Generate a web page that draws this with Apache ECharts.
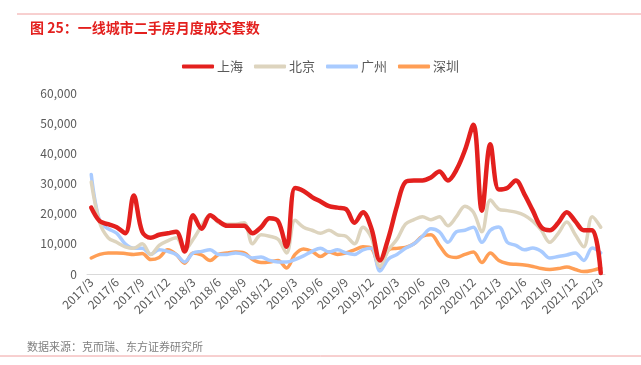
<!DOCTYPE html>
<html>
<head>
<meta charset="utf-8">
<script src="https://cdn.jsdelivr.net/npm/echarts@6/dist/echarts.min.js"></script>
<style>
  html, body { margin: 0; padding: 0; background: #fff; }
  #main { width: 641px; height: 365px; }
</style>
</head>
<body>
<div id="main"></div>
<script>
// months 2017/3 .. 2022/3
const months = [];
for (let y = 2017, m = 3; y < 2022 || (y === 2022 && m <= 3); m++) {
  if (m > 12) { m = 1; y++; }
  months.push(y + '/' + m);
}

const shanghai = [22000, 17500, 16500, 15500, 13500, 26000, 14000, 12000, 13000, 13500,
  14000, 7500, 19500, 15000, 19500, 17500, 16000, 16000, 16000, 13500,
  15500, 18500, 17500, 9000, 28500, 27500, 25500, 24000, 22500, 22000,
  21500, 17000, 20500, 15000, 4500, 12000, 22500, 30500, 31000, 31000,
  32000, 34000, 31000, 34500, 41000, 49500, 21000, 43000, 28000, 28500,
  31000, 26500, 21000, 15500, 14500, 17000, 20500, 17500, 14500, 14500, 300];

const beijing = [30500, 17000, 12000, 10500, 9000, 8500, 10000, 6500, 9500, 11000,
  12000, 8000, 11500, 16000, 19500, 17000, 16500, 16500, 17000, 10000,
  13000, 12500, 11500, 7000, 17800, 15500, 14500, 13500, 14500, 13000,
  12500, 10000, 15500, 12000, 2500, 8000, 11500, 16500, 18000, 19000,
  18000, 19000, 16000, 19000, 22500, 20500, 14000, 24500, 21500, 21000,
  20500, 19500, 17500, 14500, 10500, 13500, 17200, 13000, 9000, 19000, 15500];

const guangzhou = [33000, 17500, 15000, 13500, 10000, 8500, 8500, 6500, 8000, 7500,
  6500, 4000, 7000, 7500, 8000, 6500, 6500, 7000, 6500, 5300,
  5600, 4500, 4000, 4000, 4800, 6000, 7500, 8500, 7300, 8000,
  7000, 6500, 8000, 8500, 1000, 5000, 6500, 8500, 10000, 12500,
  15000, 14000, 10500, 14000, 14500, 15500, 10500, 14500, 15600, 10500,
  9500, 8000, 8600, 7500, 5300, 5800, 6300, 7000, 4500, 8600, 7000];

const shenzhen = [5300, 6500, 7000, 7000, 6800, 6500, 6800, 4800, 5500, 8000,
  6500, 3600, 7000, 6300, 4500, 6500, 7000, 7300, 7000, 4800,
  3800, 4000, 4500, 2000, 6500, 8300, 7500, 5800, 7300, 6500,
  7000, 8000, 9000, 8500, 2000, 8000, 8500, 8800, 10000, 12500,
  13000, 9500, 6000, 5500, 6500, 7300, 3800, 7000, 4500, 3500,
  3200, 3000, 2500, 1800, 1500, 1800, 2300, 1500, 800, 1200, 2000];

const seriesNames = ['上海', '北京', '广州', '深圳'];
const seriesColors = ['#e3201e', '#ddd4be', '#a9cbff', '#ff9e55'];
const seriesData = [shanghai, beijing, guangzhou, shenzhen];

const chart = echarts.init(document.getElementById('main'));

const option = {
  animation: false,
  backgroundColor: '#fff',
  textStyle: {fontFamily: '"Noto Sans CJK SC", "Noto Sans", sans-serif'},
  title: {
    text: '图 25：一线城市二手房月度成交套数',
    left: 25,
    top: 16,
    textStyle: {color: '#e3201e', fontSize: 14, fontWeight: 'bold'}
  },
  graphic: [
    {type: 'line', shape: {x1: 17, y1: 14, x2: 641, y2: 14}, style: {stroke: '#f0a0a0', lineWidth: 1}},
    {type: 'line', shape: {x1: 0, y1: 356, x2: 641, y2: 356}, style: {stroke: '#f0a0a0', lineWidth: 1}},
    {type: 'text', left: 27, top: 341, style: {text: '数据来源：克而瑞、东方证券研究所', fill: '#808080', fontSize: 11, fontFamily: '"Noto Sans CJK SC", sans-serif'}}
  ],
  legend: {
    data: seriesNames,
    top: 55,
    left: 'center',
    itemWidth: 32,
    itemHeight: 4,
    itemGap: 11,
    icon: 'roundRect',
    textStyle: {color: '#595959', fontSize: 13, padding: [0, 0, 0, -2]}
  },
  grid: {left: 87, right: 36, top: 93, bottom: 91},
  xAxis: {
    type: 'category',
    data: months,
    boundaryGap: true,
    axisLine: {lineStyle: {color: '#d9d9d9', width: 1}},
    axisTick: {show: false},
    axisLabel: {
      interval: 2,
      rotate: 45,
      color: '#595959',
      fontSize: 12,
      margin: 6
    }
  },
  yAxis: {
    type: 'value',
    min: 0,
    max: 60000,
    interval: 10000,
    axisLine: {show: false},
    axisTick: {show: false},
    splitLine: {show: false},
    axisLabel: {
      color: '#595959',
      fontSize: 12,
      margin: 10,
      formatter: v => v.toLocaleString('en-US')
    }
  },
  series: seriesNames.map((name, i) => ({
    name: name,
    type: 'line',
    data: seriesData[i],
    smooth: 0.35,
    symbol: 'none',
    z: 10 - i,
    lineStyle: {color: seriesColors[i], width: i === 0 ? 4.5 : 3.5, cap: 'round'},
    itemStyle: {color: seriesColors[i]}
  }))
};

chart.setOption(option);
</script>
</body>
</html>
